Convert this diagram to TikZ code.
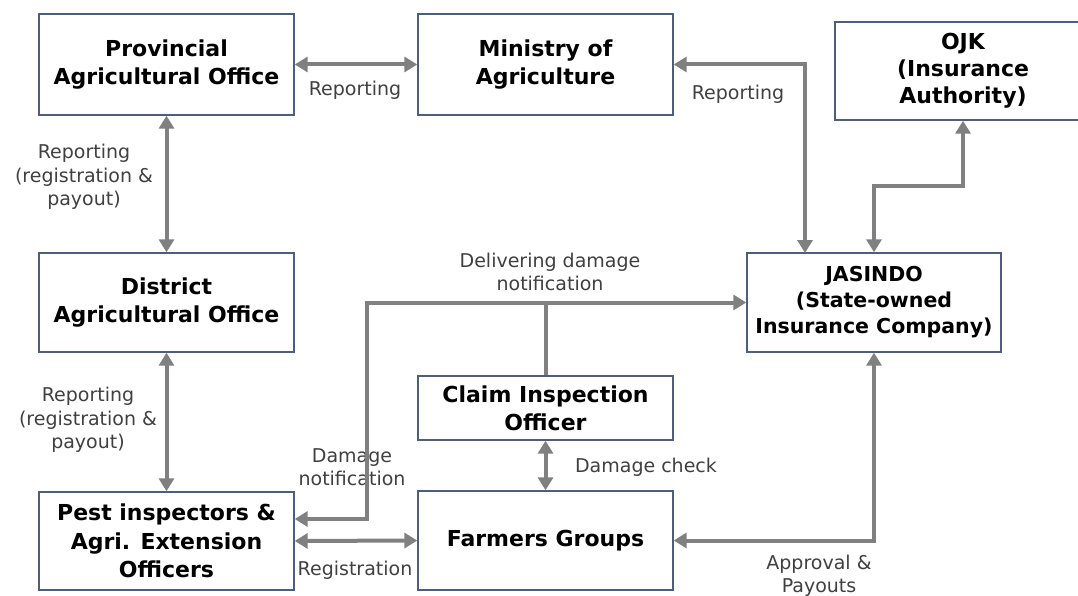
\documentclass[tikz,border=0pt]{standalone}
\usepackage{fontspec}
\setmainfont{DejaVu Sans}
\usetikzlibrary{arrows.meta}
\definecolor{boxline}{HTML}{4E5D7A}
\definecolor{arrowgray}{HTML}{808080}
\definecolor{labelgray}{HTML}{404040}
\begin{document}
\begin{tikzpicture}[x=1pt,y=-1pt,
  box/.style={draw=boxline, line width=1.4pt, fill=white, inner sep=0pt, align=center,
    font=\fontsize{22}{28}\selectfont\bfseries, text=black},
  plain/.style={draw=arrowgray, line width=4pt},
  biconn/.style={plain, {Triangle[length=13pt,width=15pt]}-{Triangle[length=13pt,width=15pt]}},
  lbl/.style={text=labelgray, align=center, font=\fontsize{19}{23.5}\selectfont, inner sep=0pt}]

\clip (0,0) rectangle (1078,596);
\fill[white] (0,0) rectangle (1078,596);

% boxes
\node[box, minimum width=255pt, minimum height=101pt] (prov) at (166.5,64.5) {Provincial\\Agricultural Office};
\node[box, minimum width=255pt, minimum height=101pt] (min) at (545.5,64.5) {Ministry of\\Agriculture};
\node[box, minimum width=256pt, minimum height=98pt, font=\fontsize{22}{27}\selectfont\bfseries] (ojk) at (963,71) {OJK\\(Insurance\\Authority)};
\node[box, minimum width=255pt, minimum height=99pt] (dist) at (166.5,302.5) {District\\Agricultural Office};
\node[box, minimum width=254pt, minimum height=99pt, font=\fontsize{20.5}{26}\selectfont\bfseries] (jas) at (874,302.5) {JASINDO\\(State-owned\\Insurance Company)};
\node[box, minimum width=255pt, minimum height=64pt] (cio) at (545.5,408) {Claim Inspection\\Officer};
\node[box, minimum width=255pt, minimum height=99pt] (fg) at (545.5,540.5) {Farmers Groups};
\node[box, minimum width=255pt, minimum height=98pt, font=\fontsize{22}{28.5}\selectfont\bfseries] (pest) at (166.5,541) {Pest inspectors \&\\Agri. Extension\\Officers};

% labels
\node[lbl] (l1) at (355,90) {Reporting};
\node[lbl] (l2) at (84,177) {Reporting\\(registration \&\\payout)};
\node[lbl] (l3) at (738,94) {Reporting};
\node[lbl] (l4) at (88,420) {Reporting\\(registration \&\\payout)};
\node[lbl] (l5) at (550,272) {Delivering damage\\notification};
\node[lbl] (l6) at (352,467) {Damage\\notification};
\node[lbl] (l7) at (646,467) {Damage check};
\node[lbl] (l8) at (355,570) {Registration};
\node[lbl] (l9) at (819,576) {Approval \&\\Payouts};

% coordinates
\coordinate (jasR) at (805,253);
\coordinate (dnc) at (367,302.5);

% connectors
\draw[biconn] (prov.east) -- (min.west);
\draw[biconn] (prov.south) -- (dist.north);
\draw[biconn] (min.east) -| (jasR);
\draw[biconn] (jas.north) -- ++(0,-66) -| (ojk.south);
\draw[biconn] (dist.south) -- (pest.north);
\draw[biconn] ([yshift=22pt]pest.east) -| (dnc) -- (jas.west);
\draw[plain] (cio.north) -- (cio.north |- jas.west);
\draw[biconn] (cio.south) -- (fg.north);
\draw[biconn] (pest.east) -- (fg.west);
\draw[biconn] (fg.east) -| (jas.south);
\end{tikzpicture}
\end{document}
